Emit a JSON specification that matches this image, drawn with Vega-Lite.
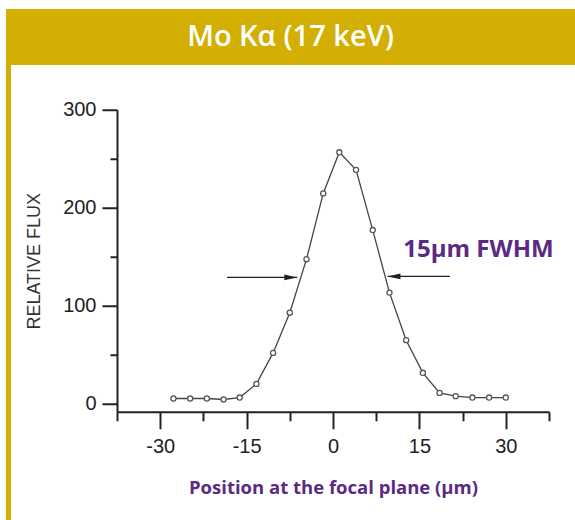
{
  "$schema": "https://vega.github.io/schema/vega-lite/v6.json",
  "padding": {"top": 9, "left": 6, "right": 0, "bottom": 0},
  "background": "white",
  "config": {"view": {"stroke": null}},
  "datasets": {
    "profile": [
      {"x": -27.7, "y": 5.5}, {"x": -24.8, "y": 5.5}, {"x": -21.9, "y": 5.5}, {"x": -19.0, "y": 4.5},
      {"x": -16.2, "y": 6.5}, {"x": -13.3, "y": 20.4}, {"x": -10.4, "y": 52}, {"x": -7.5, "y": 93},
      {"x": -4.6, "y": 147.6}, {"x": -1.7, "y": 214.7}, {"x": 1.1, "y": 256.6}, {"x": 4.0, "y": 238.7},
      {"x": 6.9, "y": 177.3}, {"x": 9.8, "y": 113.5}, {"x": 12.7, "y": 65}, {"x": 15.6, "y": 31.7},
      {"x": 18.5, "y": 11.2}, {"x": 21.3, "y": 7.9}, {"x": 24.2, "y": 6.5}, {"x": 27.1, "y": 6.5},
      {"x": 30.0, "y": 6.5}
    ],
    "arrows": [
      {"x": -18.4, "x2": -6.2, "y": 129, "dir": "right"},
      {"x": 20.3, "x2": 9.45, "y": 130, "dir": "left"}
    ],
    "note": [{"x": 12.2, "y": 157, "t": "15μm FWHM"}],
    "head": [{"t": "Mo Kα (17 keV)"}],
    "blank": [{"t": ""}]
  },
  "vconcat": [
    {
      "width": 569,
      "height": 56,
      "view": {"fill": "#d3af04", "stroke": null},
      "data": {"name": "head"},
      "mark": {"type": "text", "font": "Open Sans", "fontWeight": 600, "fontSize": 29, "color": "white"},
      "encoding": {"text": {"field": "t"}}
    },
    {
      "hconcat": [
        {
          "width": 5,
          "height": 477,
          "view": {"fill": "#d3af04", "stroke": null},
          "data": {"name": "blank"},
          "mark": {"type": "text"},
          "encoding": {"text": {"field": "t"}}
        },
        {
          "width": 432,
          "height": 302,
          "layer": [
            {
              "data": {"name": "profile"},
              "mark": {"type": "line", "color": "#444", "strokeWidth": 1.3},
              "encoding": {
                "x": {
                  "field": "x", "type": "quantitative",
                  "scale": {"domain": [-37.5, 37.5], "nice": false, "zero": false},
                  "axis": {
                    "values": [-37.5, -30, -22.5, -15, -7.5, 0, 7.5, 15, 22.5, 30, 37.5],
                    "labelExpr": "datum.value % 15 === 0 ? '' + datum.value : ''",
                    "tickSize": {"condition": {"test": "datum.value % 15 === 0", "value": 17}, "value": 9},
                    "grid": false,
                    "domainColor": "#222", "domainWidth": 2,
                    "tickColor": "#222", "tickWidth": 2,
                    "labelFont": "Liberation Sans", "labelFontSize": 20, "labelColor": "#222",
                    "labelPadding": 8, "labelFlush": false, "labelOverlap": false,
                    "title": "Position at the focal plane (μm)",
                    "titleFont": "Open Sans", "titleFontWeight": 700, "titleFontSize": 18.5,
                    "titleColor": "#5b2a82", "titlePadding": 22
                  }
                },
                "y": {
                  "field": "y", "type": "quantitative",
                  "scale": {"domain": [-8, 300], "nice": false, "zero": false},
                  "axis": {
                    "values": [0, 50, 100, 150, 200, 250, 300],
                    "labelExpr": "datum.value % 100 === 0 ? '' + datum.value : ''",
                    "tickSize": {"condition": {"test": "datum.value % 100 === 0", "value": 15}, "value": 7},
                    "grid": false,
                    "domainColor": "#222", "domainWidth": 2,
                    "tickColor": "#222", "tickWidth": 2,
                    "labelFont": "Liberation Sans", "labelFontSize": 20, "labelColor": "#222",
                    "labelPadding": 6, "labelFlush": false, "labelOverlap": false,
                    "title": "RELATIVE FLUX",
                    "titleFont": "Liberation Sans", "titleFontWeight": "normal", "titleFontSize": 18,
                    "titleColor": "#333", "titlePadding": 19
                  }
                }
              }
            },
            {
              "data": {"name": "profile"},
              "mark": {"type": "point", "filled": false, "fill": "white", "fillOpacity": 1, "stroke": "#555", "strokeWidth": 1.3, "size": 26, "opacity": 1},
              "encoding": {
                "x": {"field": "x", "type": "quantitative", "scale": {"domain": [-37.5, 37.5], "nice": false, "zero": false}},
                "y": {"field": "y", "type": "quantitative", "scale": {"domain": [-8, 300], "nice": false, "zero": false}}
              }
            },
            {
              "data": {"name": "arrows"},
              "mark": {"type": "rule", "color": "#222", "strokeWidth": 1.2},
              "encoding": {
                "x": {"field": "x", "type": "quantitative", "scale": {"domain": [-37.5, 37.5], "nice": false, "zero": false}},
                "x2": {"field": "x2"},
                "y": {"field": "y", "type": "quantitative", "scale": {"domain": [-8, 300], "nice": false, "zero": false}}
              }
            },
            {
              "data": {"name": "arrows"},
              "mark": {"type": "point", "filled": true, "color": "#222", "size": 169, "opacity": 1},
              "encoding": {
                "x": {"field": "x2", "type": "quantitative", "scale": {"domain": [-37.5, 37.5], "nice": false, "zero": false}},
                "y": {"field": "y", "type": "quantitative", "scale": {"domain": [-8, 300], "nice": false, "zero": false}},
                "shape": {
                  "field": "dir", "type": "nominal",
                  "scale": {"domain": ["right", "left"], "range": ["M0,0L-2,-0.45L-2,0.45Z", "M0,0L2,-0.45L2,0.45Z"]},
                  "legend": null
                }
              }
            },
            {
              "data": {"name": "note"},
              "mark": {"type": "text", "align": "left", "baseline": "middle", "font": "Open Sans", "fontWeight": 700, "fontSize": 24, "color": "#5b2a82"},
              "encoding": {
                "x": {"field": "x", "type": "quantitative", "scale": {"domain": [-37.5, 37.5], "nice": false, "zero": false}},
                "y": {"field": "y", "type": "quantitative", "scale": {"domain": [-8, 300], "nice": false, "zero": false}},
                "text": {"field": "t"}
              }
            }
          ]
        }
      ],
      "spacing": 14,
      "center": true
    }
  ],
  "spacing": 0
}
